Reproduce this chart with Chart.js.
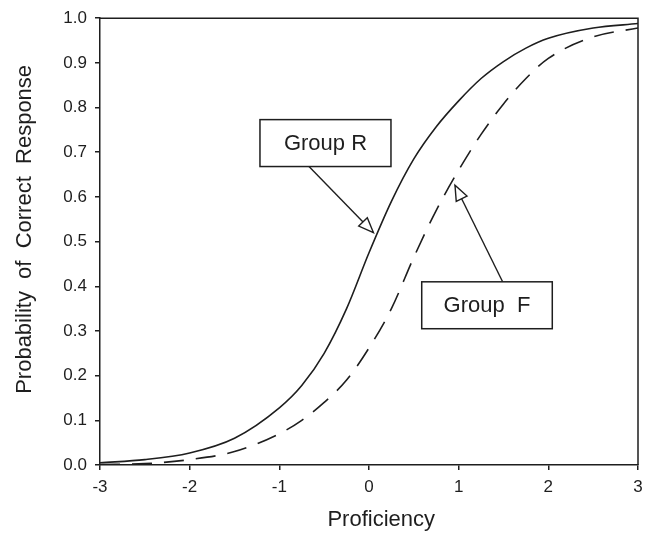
<!DOCTYPE html>
<html>
<head>
<meta charset="utf-8">
<script src="https://cdn.jsdelivr.net/npm/chart.js@4.4.0/dist/chart.umd.min.js"></script>
<style>
  html, body { margin: 0; padding: 0; background: #fff; }
  #wrap { width: 653px; height: 533px; }
</style>
</head>
<body>
<div id="wrap"><canvas id="myChart" width="653" height="533"></canvas></div>
<script>
// proficiency values (theta) and probabilities
const theta = [-3, -2.5, -2, -1.5, -1, -0.75, -0.5, -0.25, 0, 0.25, 0.5, 0.75, 1, 1.25, 1.5, 1.75, 2, 2.5, 3]
const groupR = [0.005, 0.012, 0.027, 0.06, 0.128, 0.178, 0.25, 0.35, 0.475, 0.59, 0.685, 0.757, 0.815, 0.865, 0.903, 0.933, 0.955, 0.978, 0.988]
const groupF = [0.001, 0.003, 0.012, 0.03, 0.07, 0.1, 0.14, 0.19, 0.262, 0.35, 0.465, 0.57, 0.66, 0.74, 0.808, 0.865, 0.91, 0.958, 0.978]

const xTicks = [-3, -2, -1, 0, 1, 2, 3]

// annotation boxes, in data units: [xMin, xMax, yMax, yMin]
const boxLabels = ['Group R', 'Group  F']
const boxExtents = [[-1.216, 0.245, 0.773, 0.668], [0.588, 2.044, 0.41, 0.305]]
// arrows, in data units: [fromX, fromY, toX, toY]
const arrows = [[-0.669, 0.668, 0.05, 0.52], [1.49, 0.41, 0.959, 0.626]]

const ink = '#1e1e1e'
const font = "'Liberation Sans', Arial, sans-serif"

const toPoints = (ys) => theta.map((t, i) => ({ x: t, y: ys[i] }))

const drawArrowHead = (ctx, x0, y0, x1, y1) => {
  const ang = Math.atan2(y1 - y0, x1 - x0)
  const len = 15, half = 6
  const bx = x1 - len * Math.cos(ang), by = y1 - len * Math.sin(ang)
  ctx.beginPath()
  ctx.moveTo(x1, y1)
  ctx.lineTo(bx + half * Math.sin(ang), by - half * Math.cos(ang))
  ctx.lineTo(bx - half * Math.sin(ang), by + half * Math.cos(ang))
  ctx.closePath()
  ctx.fillStyle = '#fff'
  ctx.fill()
  ctx.stroke()
}

const annotations = {
  id: 'annotations',
  afterDraw(chart) {
    const { ctx, chartArea, scales } = chart
    const sx = scales.x, sy = scales.y
    ctx.save()
    ctx.strokeStyle = ink
    // top and right frame
    ctx.lineWidth = 1.5
    ctx.beginPath()
    ctx.moveTo(chartArea.left, chartArea.top)
    ctx.lineTo(chartArea.right, chartArea.top)
    ctx.lineTo(chartArea.right, chartArea.bottom)
    ctx.stroke()

    ctx.lineWidth = 1.4
    arrows.forEach(a => {
      const x0 = sx.getPixelForValue(a[0]), y0 = sy.getPixelForValue(a[1])
      const x1 = sx.getPixelForValue(a[2]), y1 = sy.getPixelForValue(a[3])
      ctx.beginPath()
      ctx.moveTo(x0, y0)
      ctx.lineTo(x1, y1)
      ctx.stroke()
      drawArrowHead(ctx, x0, y0, x1, y1)
    })

    ctx.lineWidth = 1.5
    ctx.font = '22px ' + font
    ctx.textAlign = 'center'
    ctx.textBaseline = 'middle'
    boxExtents.forEach((b, i) => {
      const l = sx.getPixelForValue(b[0]), r = sx.getPixelForValue(b[1])
      const t = sy.getPixelForValue(b[2]), bt = sy.getPixelForValue(b[3])
      ctx.fillStyle = '#fff'
      ctx.fillRect(l, t, r - l, bt - t)
      ctx.strokeRect(l, t, r - l, bt - t)
      ctx.fillStyle = ink
      ctx.fillText(boxLabels[i], (l + r) / 2, (t + bt) / 2 + 1)
    })
    ctx.restore()
  }
}

const ctx = document.getElementById('myChart')
new Chart(ctx, {
  type: 'line',
  data: {
    datasets: [
      {
        label: 'Group R',
        data: toPoints(groupR),
        borderColor: ink,
        borderWidth: 1.6,
        pointRadius: 0,
        cubicInterpolationMode: 'monotone',
        fill: false
      },
      {
        label: 'Group F',
        data: toPoints(groupF),
        borderColor: ink,
        borderWidth: 1.6,
        borderDash: [20, 12],
        pointRadius: 0,
        cubicInterpolationMode: 'monotone',
        fill: false
      }
    ]
  },
  options: {
    responsive: false,
    animation: false,
    layout: { padding: { top: 15, right: 15, left: 0, bottom: 0 } },
    plugins: {
      legend: { display: false },
      tooltip: { enabled: false }
    },
    scales: {
      x: {
        type: 'linear',
        min: -3,
        max: 3,
        afterBuildTicks: (scale) => { scale.ticks = xTicks.map(v => ({ value: v })) },
        afterFit: (scale) => { scale.height = 68 },
        grid: { drawOnChartArea: false, drawTicks: true, tickLength: 5, color: ink, lineWidth: 1.5 },
        border: { display: true, color: ink, width: 1.5 },
        ticks: { color: ink, font: { family: font, size: 17 }, padding: 7 },
        title: { display: true, text: '    Proficiency', color: ink, font: { family: font, size: 22 }, padding: { top: 0, bottom: 0 } }
      },
      y: {
        min: 0,
        max: 1,
        afterFit: (scale) => { scale.width = 100 },
        grid: { drawOnChartArea: false, drawTicks: true, tickLength: 5, color: ink, lineWidth: 1.5 },
        border: { display: true, color: ink, width: 1.5 },
        ticks: { stepSize: 0.1, color: ink, font: { family: font, size: 17 }, padding: 8, callback: (v) => v.toFixed(1) },
        title: { display: true, text: '    Probability  of  Correct  Response', color: ink, font: { family: font, size: 22 }, padding: { top: 12, bottom: 0 } }
      }
    }
  },
  plugins: [annotations]
})
</script>
</body>
</html>
